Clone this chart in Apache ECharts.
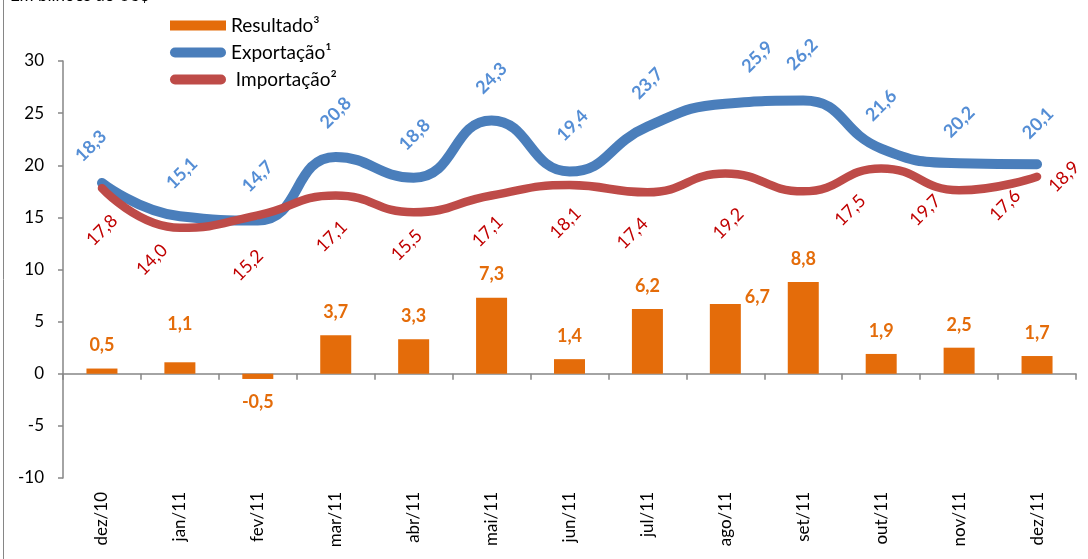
<!DOCTYPE html>
<html>
<head>
<meta charset="utf-8">
<script src="https://cdn.jsdelivr.net/npm/echarts@6/dist/echarts.min.js"></script>
<style>
  html, body { margin: 0; padding: 0; background: #fff; }
  #chart { width: 1088px; height: 559px; }
</style>
</head>
<body>
<div id="chart"></div>
<script>
// valores em bilhões de US$
const months = ['dez/10', 'jan/11', 'fev/11', 'mar/11', 'abr/11', 'mai/11', 'jun/11',
                'jul/11', 'ago/11', 'set/11', 'out/11', 'nov/11', 'dez/11'];
const resultado = [0.5, 1.1, -0.5, 3.7, 3.3, 7.3, 1.4, 6.2, 6.7, 8.8, 1.9, 2.5, 1.7];
const exportacao = [18.3, 15.1, 14.7, 20.8, 18.8, 24.3, 19.4, 23.7, 25.9, 26.2, 21.6, 20.2, 20.1];
const importacao = [17.8, 14.0, 15.2, 17.1, 15.5, 17.1, 18.1, 17.4, 19.2, 17.5, 19.7, 17.6, 18.9];

// where excel left each label, relative to its point (px)
const exportNudge = [[-11, -37], [2, -43], [0, -44], [0, -44], [1, -43], [0, -42], [3, -46],
                     [0, -43], [32, -47], [-1, -46], [0, -43], [0, -41], [1, -41]];
const importNudge = [[0, 42], [-28, 32], [-10, 50], [-4, 41], [-7, 33], [-4, 36], [-4, 38],
                     [-15, 41], [3, 50], [47, 19], [44, 42], [46, 15], [27, 0]];

const FONT = 'Lato';
const AXIS_GREY = '#868686';
const pill = 'path://M5,0 L51,0 A5,5 0 0 1 51,10 L5,10 A5,5 0 0 1 5,0 Z';

const fmt = v => v.toFixed(1).replace('.', ',');

function lineData (values, nudge) {
    return values.map((v, i) => ({
        value: v,
        label: { position: [nudge[i][0] + 1, nudge[i][1] + 1] }
    }));
}

function barData () {
    return resultado.map((v, i) => {
        if (i === 1) return { value: v, label: { distance: 29 } };
        if (i === 8) return { value: v, label: { position: 'right', distance: 4, offset: [0, -42] } };
        return v;
    });
}

const chart = echarts.init(document.getElementById('chart'));

chart.setOption({
    animation: false,
    textStyle: { fontFamily: FONT },
    graphic: [
        {
            type: 'line',
            shape: { x1: 3.5, y1: 0, x2: 3.5, y2: 559 },
            style: { stroke: AXIS_GREY, lineWidth: 1 }
        },
        {
            type: 'text',
            left: 10,
            top: -13,
            style: { text: 'Em bilhões de US$', fontFamily: FONT, fontSize: 17, fill: '#000' }
        }
    ],
    legend: {
        orient: 'vertical',
        left: 170,
        top: 16,
        padding: 0,
        itemWidth: 56,
        itemHeight: 10,
        itemGap: 8,
        textStyle: { fontFamily: FONT, fontSize: 19, color: '#000' },
        formatter: name => name === 'Importação²' ? ' ' + name : name,
        data: [
            { name: 'Resultado³', icon: 'rect', itemStyle: { color: '#e46c0a' } },
            { name: 'Exportação¹', icon: pill },
            { name: 'Importação²', icon: pill }
        ]
    },
    grid: { left: 63, right: 12, top: 61, bottom: 81 },
    xAxis: [
        {
            type: 'category',
            data: months,
            axisLine: { onZero: true, lineStyle: { color: AXIS_GREY, width: 1.5 } },
            axisTick: { show: true, length: 6, lineStyle: { color: AXIS_GREY, width: 1.5 } },
            axisLabel: { show: false }
        },
        {
            type: 'category',
            data: months,
            position: 'bottom',
            axisLine: { show: false, onZero: false },
            axisTick: { show: false },
            axisLabel: {
                rotate: 90,
                margin: 14,
                fontFamily: FONT,
                fontSize: 17,
                color: '#000'
            }
        }
    ],
    yAxis: {
        type: 'value',
        min: -10,
        max: 30,
        interval: 5,
        axisLine: { show: true, lineStyle: { color: AXIS_GREY, width: 1.5 } },
        axisTick: { show: true, length: 5, lineStyle: { color: AXIS_GREY, width: 1.5 } },
        splitLine: { show: false },
        axisLabel: { margin: 19, fontFamily: FONT, fontSize: 17, color: '#000' }
    },
    series: [
        {
            name: 'Resultado³',
            type: 'bar',
            data: barData(),
            barWidth: 31,
            itemStyle: { color: '#e46c0a' },
            label: {
                show: true,
                position: 'outside',
                distance: 14,
                formatter: p => fmt(p.value),
                fontFamily: FONT,
                fontSize: 18,
                fontWeight: 'bold',
                color: '#e46c0a'
            }
        },
        {
            name: 'Exportação¹',
            type: 'line',
            data: lineData(exportacao, exportNudge),
            smooth: 0.5,
            symbol: 'circle',
            symbolSize: 2,
            showSymbol: true,
            itemStyle: { color: '#4a7ebb' },
            lineStyle: { color: '#4a7ebb', width: 10, cap: 'round' },
            label: {
                show: true,
                rotate: 45,
                align: 'center',
                verticalAlign: 'middle',
                formatter: p => fmt(p.value),
                fontFamily: FONT,
                fontSize: 18,
                fontWeight: 'bold',
                color: '#558ed5'
            }
        },
        {
            name: 'Importação²',
            type: 'line',
            data: lineData(importacao, importNudge),
            smooth: 0.5,
            symbol: 'circle',
            symbolSize: 2,
            showSymbol: true,
            itemStyle: { color: '#be4b48' },
            lineStyle: { color: '#be4b48', width: 8.5, cap: 'round' },
            label: {
                show: true,
                rotate: 45,
                align: 'center',
                verticalAlign: 'middle',
                formatter: p => fmt(p.value),
                fontFamily: FONT,
                fontSize: 18,
                color: '#c00000'
            }
        }
    ]
});
</script>
</body>
</html>
